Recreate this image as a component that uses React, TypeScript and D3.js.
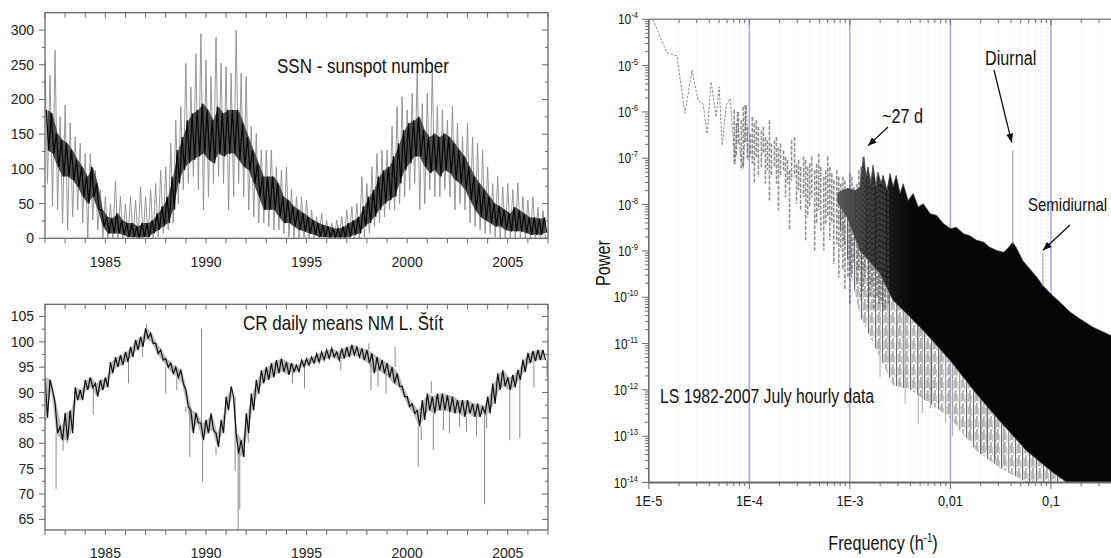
import * as d3 from 'd3';

const W = 1111;
const H = 558;
const FONT = '"Liberation Sans", Arial, Helvetica, sans-serif';

// ---- left panels: time axis ----
const years = d3.range(1982, 2008);
const yearLabels = [1985, 1990, 1995, 2000, 2005];
const ssnTicks = d3.range(0, 301, 25);
const ssnLabels = [0, 50, 100, 150, 200, 250, 300];
const crTicks = d3.range(65, 105.1, 2.5);
const crLabels = [65, 70, 75, 80, 85, 90, 95, 100, 105];

// quarterly samples, first one at 1982.00
const T0 = 1982;
const DT = 0.25;

// sunspot number: spike tops, dark core top / bottom, dips
const ssnHi = [258, 235, 271, 175, 192, 166, 146, 137, 122, 122, 98, 70, 60, 50, 82, 60, 50, 60, 55, 74, 60, 70, 79, 98, 103, 137, 170, 190, 252, 218, 266, 295, 257, 233, 290, 252, 247, 238, 300, 238, 233, 161, 151, 127, 127, 127, 103, 98, 103, 70, 60, 60, 55, 41, 31, 36, 26, 22, 26, 31, 41, 46, 50, 89, 79, 103, 122, 127, 127, 161, 190, 204, 185, 209, 242, 194, 209, 242, 190, 185, 170, 190, 166, 146, 166, 146, 137, 127, 103, 79, 89, 74, 79, 70, 80, 60, 55, 60, 45, 40];
const ssnCoreHi = [185, 180, 151, 142, 137, 127, 113, 103, 89, 103, 79, 41, 31, 29, 36, 26, 22, 22, 17, 22, 22, 26, 36, 46, 60, 89, 127, 146, 170, 180, 185, 194, 185, 170, 190, 180, 185, 185, 185, 166, 146, 127, 108, 89, 89, 89, 79, 60, 55, 46, 41, 36, 31, 26, 22, 19, 17, 14, 14, 17, 22, 26, 31, 46, 60, 70, 89, 98, 103, 118, 137, 156, 166, 170, 175, 156, 146, 151, 146, 151, 146, 137, 127, 118, 103, 89, 79, 70, 60, 50, 46, 41, 36, 45, 40, 35, 30, 30, 28, 30];
const ssnCoreLo = [127, 122, 103, 89, 89, 84, 74, 60, 50, 60, 41, 17, 7, 7, 7, 5, 2, 2, 1, 2, 2, 7, 12, 17, 22, 41, 79, 98, 108, 113, 118, 122, 113, 108, 122, 118, 122, 122, 113, 103, 98, 79, 60, 41, 41, 41, 31, 22, 22, 17, 12, 10, 7, 5, 2, 2, 1, 1, 1, 1, 2, 5, 7, 17, 22, 31, 41, 50, 55, 60, 79, 98, 108, 118, 118, 103, 94, 98, 89, 98, 94, 84, 79, 70, 55, 41, 31, 26, 22, 17, 17, 12, 10, 10, 10, 8, 5, 5, 5, 8];
const ssnLo = [79, 46, 41, 22, 12, 31, 41, 22, 0, 26, 12, 0, 0, 0, 0, 0, 0, 0, 0, 0, 0, 0, 2, 7, 12, 22, 50, 70, 79, 89, 70, 41, 60, 79, 89, 79, 41, 60, 79, 60, 41, 31, 22, 22, 17, 12, 12, 7, 2, 0, 0, 0, 0, 0, 0, 0, 0, 0, 0, 0, 0, 0, 0, 2, 7, 17, 22, 31, 41, 41, 50, 60, 70, 79, 41, 50, 70, 60, 60, 70, 60, 41, 50, 41, 22, 17, 12, 7, 7, 2, 0, 0, 0, 0, 0, 0, 0, 0, 0, 0];

// cosmic rays, Lomnicky Stit: band top / bottom per quarter
const crHi = [93, 92.5, 88, 83.3, 86, 86.5, 91, 90.5, 92.5, 93, 91.8, 92.5, 93, 96, 97, 97.4, 98, 99, 100.4, 101, 102.7, 101.7, 99.7, 98.4, 96.7, 95.8, 95, 94.4, 90.5, 86.5, 86, 84, 84.6, 85.9, 82, 84.6, 89.2, 91.2, 82, 80.6, 85.9, 89.8, 92.5, 94.4, 95, 95.8, 96.4, 96.7, 96, 95.8, 95.4, 96.4, 96.7, 97, 97.7, 98, 98.4, 98.7, 98, 98.7, 99, 99.4, 99, 98.7, 98.4, 97.7, 97, 96.4, 95.8, 95, 93.8, 91.2, 89.2, 87.8, 86.5, 88.5, 89.8, 89.2, 89.8, 89.8, 89.5, 89.2, 88.5, 88.5, 88.5, 87.8, 87.8, 87.2, 89.2, 91.8, 93.8, 94.4, 93, 93.5, 94.5, 96.5, 97.8, 98.2, 98.4, 98.4];
const crLo = [85, 90.5, 82, 80.6, 80.6, 82, 88.5, 88.5, 90.5, 91, 89.2, 90.5, 91, 93.8, 95, 95.4, 96, 97, 98.4, 99, 100.7, 99.7, 97.7, 96.4, 95, 93.8, 93, 91.8, 87.2, 82, 84, 80.6, 82, 82.6, 79.3, 82, 86.5, 89.2, 78, 77.3, 82, 86.5, 89.8, 91.8, 92.5, 93, 93.8, 94.1, 93.5, 94.1, 94.1, 95.1, 95.4, 95.8, 96, 96.4, 96.7, 97, 96.4, 96.7, 97, 97.4, 97, 96.4, 95.8, 93.8, 94.4, 93.8, 93, 91.8, 91.2, 89.2, 87.2, 85.9, 83.3, 84.6, 86.5, 85.9, 86.5, 86.5, 86.2, 85.9, 85.9, 85.2, 85.9, 85.2, 85.2, 85.9, 85.9, 87.8, 90.5, 91.2, 90.5, 91, 92.5, 94, 95.8, 96.2, 96.4, 96.4];
// single-day excursions [year, value]
const crSpikes: [number, number][] = [[1982.05, 84.5], [1982.55, 71], [1982.9, 78.5], [1983.1, 80], [1984.4, 85.6], [1986.15, 91.8], [1986.85, 97], [1987.05, 103.6], [1988.0, 89.8], [1988.55, 90.5], [1989.0, 86.2], [1989.2, 77.3], [1989.78, 102.6], [1989.83, 72.4], [1990.5, 77.7], [1991.45, 74.5], [1991.6, 62.9], [1991.68, 67], [1991.9, 78.7], [1992.1, 80], [1994.3, 91.8], [1994.9, 90.8], [1996.7, 94.4], [1998.1, 99.7], [1998.2, 90.5], [1998.55, 91.2], [1998.95, 89.8], [1999.4, 99], [2000.55, 75.4], [2000.7, 80.6], [2001.2, 92.2], [2001.3, 78.7], [2001.8, 82.6], [2002.1, 82], [2002.6, 83.3], [2002.95, 82.3], [2003.45, 81.3], [2003.85, 68], [2003.95, 83], [2005.1, 80.6], [2005.6, 81], [2006.3, 91], [2006.95, 93]];

// ---- right panel: Lomb-Scargle spectrum, all values log10 ----
const decades = d3.range(-5, 1);
const xTickLabels = ['1E-5', '1E-4', '1E-3', '0,01', '0,1', '1'];
const yExps = d3.range(-14, -3);
// sparse low-frequency part [log f, log P]
const lowF: [number, number][] = [[-4.96, -4.0], [-4.82, -4.72], [-4.72, -4.79], [-4.64, -6.03], [-4.57, -5.1], [-4.51, -5.75], [-4.46, -5.82], [-4.42, -6.47], [-4.38, -5.35], [-4.33, -6.11], [-4.3, -5.46], [-4.27, -6.72], [-4.23, -5.85], [-4.19, -5.71], [-4.14, -7.12], [-4.12, -6.0], [-4.09, -6.9], [-4.06, -7.22], [-4.03, -5.85], [-4.01, -7.04]];
// streaks [log f, top, bottom]
const streaks: [number, number, number][] = [[-4.15, -5.96, -7.12], [-4.13, -6.25, -6.97], [-4.11, -6.0, -6.68], [-4.08, -6.18, -7.26], [-4.06, -5.89, -7.19], [-4.04, -5.85, -6.68], [-4.02, -6.32, -7.04], [-3.99, -6.47, -6.97], [-3.97, -6.11, -7.12], [-3.95, -6.25, -7.55], [-3.93, -6.18, -6.97], [-3.91, -6.32, -7.4], [-3.88, -6.4, -7.19], [-3.86, -6.32, -6.9], [-3.84, -6.54, -7.55], [-3.82, -6.61, -7.26], [-3.8, -6.18, -7.91], [-3.78, -6.68, -7.4], [-3.75, -6.61, -7.19], [-3.73, -6.54, -7.55], [-3.71, -6.76, -8.13], [-3.69, -6.68, -7.4], [-3.66, -6.83, -7.26], [-3.64, -6.97, -7.84], [-3.62, -7.04, -7.55], [-3.6, -7.26, -8.56], [-3.58, -6.61, -7.48], [-3.55, -6.54, -7.4], [-3.53, -7.12, -7.98], [-3.51, -7.04, -7.69], [-3.49, -7.19, -8.13], [-3.46, -6.97, -7.84], [-3.44, -7.04, -8.77], [-3.42, -7.19, -8.27], [-3.4, -7.12, -8.05], [-3.38, -6.97, -7.84], [-3.35, -7.26, -8.99], [-3.33, -7.12, -8.41], [-3.31, -6.9, -8.13], [-3.29, -7.19, -8.56], [-3.26, -7.4, -8.99], [-3.24, -7.26, -8.41], [-3.22, -6.97, -8.27], [-3.2, -7.19, -8.77], [-3.18, -7.33, -8.41], [-3.16, -7.48, -9.28], [-3.13, -7.26, -8.85], [-3.11, -7.4, -9.57], [-3.09, -7.55, -8.99], [-3.07, -7.4, -9.42], [-3.05, -7.48, -9.86], [-3.02, -7.69, -9.57], [-3.0, -7.33, -10.14], [-2.98, -7.4, -9.57], [-2.96, -7.62, -9.28], [-2.93, -7.55, -9.71], [-2.91, -7.26, -9.42], [-2.89, -7.19, -10.07], [-2.87, -6.97, -9.86], [-2.85, -7.26, -9.57], [-2.82, -7.19, -10.29], [-2.8, -7.4, -10.0], [-2.78, -7.33, -9.78], [-2.76, -7.55, -10.29], [-2.73, -7.4, -10.0], [-2.71, -7.48, -10.14], [-2.69, -7.62, -10.14], [-2.67, -7.4, -10.29], [-2.65, -7.55, -10.29], [-2.62, -7.69, -10.14]];
// upper edge of the dense band
const envUpper: [number, number][] = [[-3.12, -7.75], [-3.02, -7.65], [-2.95, -7.7], [-2.9, -7.62], [-2.88, -7.19], [-2.86, -6.97], [-2.84, -7.4], [-2.82, -7.19], [-2.79, -7.55], [-2.77, -7.15], [-2.74, -7.62], [-2.72, -7.3], [-2.69, -7.55], [-2.67, -7.37], [-2.63, -7.69], [-2.6, -7.33], [-2.57, -7.62], [-2.54, -7.37], [-2.5, -7.76], [-2.47, -7.55], [-2.42, -7.91], [-2.37, -7.76], [-2.32, -8.05], [-2.27, -7.98], [-2.2, -8.2], [-2.14, -8.23], [-2.07, -8.41], [-2.0, -8.52], [-1.94, -8.49], [-1.87, -8.63], [-1.81, -8.67], [-1.74, -8.77], [-1.67, -8.81], [-1.61, -8.92], [-1.54, -8.99], [-1.47, -9.03], [-1.42, -8.92], [-1.38, -8.81], [-1.34, -8.95], [-1.28, -9.21], [-1.21, -9.39], [-1.14, -9.57], [-1.08, -9.75], [-1.0, -9.93], [-0.91, -10.11], [-0.81, -10.32], [-0.71, -10.47], [-0.58, -10.65], [-0.4, -10.83], [0, -11.6]];
// lower edge of the black core and of the grey fringe [log f, core, fringe]
const envLower: [number, number, number][] = [[-3.12, -7.95, -8.3], [-3.02, -8.3, -9.2], [-2.9, -8.99, -10.4], [-2.7, -9.49, -11.3], [-2.57, -10.07, -11.9], [-2.4, -10.43, -12.0], [-2.24, -10.79, -12.24], [-2.0, -11.37, -12.6], [-1.74, -12.09, -13.32], [-1.51, -12.67, -13.68], [-1.24, -13.32, -14], [-1.0, -13.75, -14], [-0.84, -14, -14], [0, -14, -14]];
// deep single lines [log f, from, to]
const deepSpikes: [number, number, number][] = [[-2.7, -9.5, -11.73], [-2.53, -10, -11.0], [-2.47, -10.2, -11.59], [-2.32, -10.6, -12.74], [-2.1, -11.1, -12.02], [-1.91, -11.6, -12.88], [-1.64, -12.3, -13.32], [-1.47, -12.7, -13.6], [-1.34, -13.0, -13.03], [-1.18, -13.4, -13.97], [-2.2, -11, -12.4], [-2.05, -11.3, -12.7], [-1.8, -12, -13.1], [-1.55, -12.6, -13.5], [-2.62, -9.9, -11.4], [-2.45, -10.3, -12.3], [-2.28, -10.7, -12.5], [-1.98, -11.4, -13.0], [-1.69, -12.2, -13.4], [-1.42, -12.8, -13.8]];
const tidePeaks = [
  { lf: -1.38, base: -8.85, top: -6.83 },
  { lf: -1.08, base: -9.75, top: -9.03 },
];

function NText({ x, y, size, anchor = 'start', rotate = 0, children, sx = 0.81 }: any) {
  return (
    <g transform={`translate(${x},${y}) rotate(${rotate}) scale(${sx},1)`}>
      <text textAnchor={anchor} fontSize={size} fontFamily={FONT} fill="#111">{children}</text>
    </g>
  );
}

export default function App() {
  const xY = d3.scaleLinear([1982, 2007], [45, 548]);
  const yS = d3.scaleLinear([0, 325], [238.3, 12.7]);
  const yC = d3.scaleLinear([62.9, 107.4], [530, 304.3]);
  const xF = d3.scaleLog([1e-5, 1], [648.8, 1151.5]);
  const yP = d3.scaleLog([1e-14, 1e-4], [482.5, 19.3]);
  const fx = (lf: number) => xF(10 ** lf);
  const py = (lp: number) => yP(10 ** lp);
  const tq = (i: number) => T0 + i * DT;

  const lineS = d3.line<[number, number]>().x(d => xY(d[0])).y(d => yS(d[1]));
  const lineC = d3.line<[number, number]>().x(d => xY(d[0])).y(d => yC(d[1]));
  const lineP = d3.line<[number, number]>().x(d => fx(d[0])).y(d => py(d[1]));

  // SSN: dark core band, grey spikes out to the extremes, black jitter inside the band
  const idx = d3.range(ssnHi.length);
  const ssnBand = d3.area<number>().x(i => xY(tq(i) + 0.125)).y0(i => yS(ssnCoreLo[i])).y1(i => yS(ssnCoreHi[i]))(idx);
  const ssnOuter = lineS(ssnHi.flatMap((h, i) => [[tq(i), h], [tq(i) + 0.125, ssnLo[i]]] as [number, number][]));
  const ssnCore = lineS(ssnCoreHi.flatMap((h, i) => [[tq(i) + 0.0625, h], [tq(i) + 0.1875, ssnCoreLo[i]]] as [number, number][]));

  const crBand = d3.area<number>().x(i => xY(tq(i) + 0.06)).y0(i => yC(crLo[i])).y1(i => yC(crHi[i]))(idx);
  const crPath = lineC(crHi.flatMap((h, i) => [[tq(i), h], [tq(i) + 0.125, crLo[i]]] as [number, number][]));

  const corePoly = lineP([...envUpper, ...envLower.map(d => [d[0], d[1]] as [number, number]).reverse()]) + 'Z';
  const fringe = d3.area<[number, number, number]>().x(d => fx(d[0])).y0(d => py(d[2])).y1(d => py(d[1]))(envLower);

  const minorF = decades.slice(0, -1).flatMap(d => d3.range(2, 10).map(m => d + Math.log10(m)));
  const minorP = yExps.slice(0, -1).flatMap(d => d3.range(2, 10).map(m => d + Math.log10(m)));

  const axisCol = '#6a6a6a';

  const leftPanel = (yScale: any, top: number, bottom: number, ticks: number[], labels: number[], labelY: number) => (
    <g fontFamily={FONT} fontSize={14} fill="#222">
      <rect x={45} y={top} width={503} height={bottom - top} fill="none" stroke={axisCol} strokeWidth={1.3} />
      {years.map(yr => (
        <g key={yr}>
          <line x1={xY(yr)} x2={xY(yr)} y1={bottom} y2={bottom + 5} stroke={axisCol} />
          <line x1={xY(yr)} x2={xY(yr)} y1={top} y2={top + 5} stroke={axisCol} />
        </g>
      ))}
      {ticks.map(v => {
        const major = labels.includes(v);
        return (
          <g key={v}>
            <line x1={45 - (major ? 6 : 3)} x2={45} y1={yScale(v)} y2={yScale(v)} stroke={axisCol} />
            <line x1={548 - (major ? 6 : 3)} x2={548} y1={yScale(v)} y2={yScale(v)} stroke={axisCol} />
          </g>
        );
      })}
      {labels.map(v => (
        <text key={v} x={34} y={yScale(v) + 5} textAnchor="end">{v}</text>
      ))}
      {yearLabels.map(yr => (
        <text key={yr} x={xY(yr)} y={labelY} textAnchor="middle">{yr}</text>
      ))}
    </g>
  );

  return (
    <svg width={W} height={H} style={{ position: 'absolute', left: 0, top: 0, background: '#fff' }}>
      <defs>
        <clipPath id="clipS"><rect x={45} y={12.7} width={503} height={225.6} /></clipPath>
        <clipPath id="clipC"><rect x={45} y={304.3} width={503} height={225.7} /></clipPath>
        <clipPath id="clipP"><rect x={648.8} y={19.3} width={503} height={463.2} /></clipPath>
        <marker id="arr" viewBox="0 0 10 8" refX={10} refY={4} markerWidth={9} markerHeight={7} markerUnits="userSpaceOnUse" orient="auto">
          <path d="M0,0 L10,4 L0,8 Z" fill="#111" />
        </marker>
        <pattern id="streak" width={7} height={13} patternUnits="userSpaceOnUse">
          <rect x={0} y={0} width={1.2} height={13} fill="#555" />
          <rect x={1.8} y={3} width={0.9} height={9} fill="#999" />
          <rect x={3.4} y={0} width={1.1} height={11} fill="#666" />
          <rect x={5.3} y={5} width={0.9} height={8} fill="#aaa" />
        </pattern>
        <linearGradient id="coreGrad" gradientUnits="userSpaceOnUse" x1={fx(-3.12)} x2={fx(-2.35)} y1={0} y2={0}>
          <stop offset="0" stopColor="#5a5a5a" />
          <stop offset="0.45" stopColor="#262626" />
          <stop offset="1" stopColor="#050505" />
        </linearGradient>
      </defs>

      {/* SSN panel */}
      <g clipPath="url(#clipS)">
        <path d={ssnOuter ?? ''} fill="none" stroke="#8c8c8c" strokeWidth={0.9} />
        <path d={ssnBand ?? ''} fill="#4a4a4a" />
        <path d={ssnCore ?? ''} fill="none" stroke="#050505" strokeWidth={1.2} />
      </g>
      {leftPanel(yS, 12.7, 238.3, ssnTicks, ssnLabels, 267)}
      <NText x={277} y={73} size={21}>SSN - sunspot number</NText>

      {/* CR panel */}
      <g clipPath="url(#clipC)">
        {crSpikes.map(([yr, v], k) => {
          const i = Math.min(99, Math.floor((yr - T0) / DT));
          const base = v > crHi[i] ? crHi[i] : crLo[i];
          return <line key={k} x1={xY(yr)} x2={xY(yr)} y1={yC(base)} y2={yC(v)} stroke="#8a8a8a" strokeWidth={1} />;
        })}
        <path d={crBand ?? ''} fill="#777" fillOpacity={0.5} />
        <path d={crPath ?? ''} fill="none" stroke="#111" strokeWidth={1.2} />
      </g>
      {leftPanel(yC, 304.3, 530, crTicks, crLabels, 557.5)}
      <NText x={243} y={330} size={21}>CR daily means NM L. Štít</NText>

      {/* Spectrum panel */}
      <g clipPath="url(#clipP)">
        {minorF.map((lf, k) => (
          <line key={k} x1={fx(lf)} x2={fx(lf)} y1={19.3} y2={482.5} stroke="#dde3dd" strokeDasharray="1 3" />
        ))}
        {decades.slice(1).map(d => (
          <line key={d} x1={fx(d)} x2={fx(d)} y1={19.3} y2={482.5} stroke="#a3a3ee" strokeWidth={1.5} />
        ))}
        <path d={lineP(lowF) ?? ''} fill="none" stroke="#8a8a8a" strokeWidth={1} strokeDasharray="2.5 1.5" />
        <path d={fringe ?? ''} fill="url(#streak)" fillOpacity={0.85} />
        {deepSpikes.map(([lf, a, b], k) => (
          <line key={k} x1={fx(lf)} x2={fx(lf)} y1={py(a)} y2={py(b)} stroke="#aaa" strokeWidth={1} />
        ))}
        <path d={corePoly} fill="url(#coreGrad)" stroke="#444" strokeWidth={0.8} />
        {streaks.map(([lf, a, b], k) => (
          <line key={k} x1={fx(lf)} x2={fx(lf)} y1={py(a)} y2={py(b)} stroke="#555" strokeOpacity={0.65} strokeWidth={1.6} strokeDasharray="4 1.5" />
        ))}
        {tidePeaks.map((p, k) => (
          <line key={k} x1={fx(p.lf)} x2={fx(p.lf)} y1={py(p.base)} y2={py(p.top)} stroke="#999" strokeWidth={1} />
        ))}
      </g>

      {/* spectrum axes */}
      <g stroke={axisCol}>
        <line x1={648.8} x2={1151.5} y1={19.3} y2={19.3} stroke="#8c8c8c" strokeWidth={1.5} />
        <line x1={648.8} x2={1151.5} y1={482.5} y2={482.5} strokeWidth={2} />
        <line x1={648.8} x2={648.8} y1={19.3} y2={482.5} strokeWidth={1.6} />
        {decades.map(d => (
          <g key={d}>
            <line x1={fx(d)} x2={fx(d)} y1={482.5} y2={489} />
            <line x1={fx(d)} x2={fx(d)} y1={19.3} y2={25} />
          </g>
        ))}
        {minorF.map((lf, k) => (
          <g key={k}>
            <line x1={fx(lf)} x2={fx(lf)} y1={482.5} y2={486} />
            <line x1={fx(lf)} x2={fx(lf)} y1={19.3} y2={23} />
          </g>
        ))}
        {yExps.map(e => <line key={e} x1={642} x2={648.8} y1={py(e)} y2={py(e)} />)}
        {minorP.map((lp, k) => <line key={k} x1={645} x2={648.8} y1={py(lp)} y2={py(lp)} />)}
      </g>
      {yExps.map(e => (
        <NText key={e} x={638} y={py(e) + 5} size={14} anchor="end" sx={0.85}>
          10<tspan dy={-6} fontSize={9}>{e}</tspan>
        </NText>
      ))}
      {decades.map((d, k) => (
        <NText key={d} x={fx(d)} y={506} size={15} anchor="middle" sx={0.85}>{xTickLabels[k]}</NText>
      ))}
      <NText x={610} y={263} size={20} anchor="middle" rotate={-90}>Power</NText>
      <NText x={883} y={550} size={20} anchor="middle">
        Frequency (h<tspan dy={-8} fontSize={12}>-1</tspan><tspan dy={8}>)</tspan>
      </NText>
      <NText x={660} y={403} size={19.5}>LS 1982-2007 July hourly data</NText>

      {/* annotations */}
      <NText x={882} y={123} size={20}>~27 d</NText>
      <line x1={888} y1={127} x2={fx(-2.86) + 4} y2={py(-6.97) - 11} stroke="#111" strokeWidth={1.3} markerEnd="url(#arr)" />
      <NText x={985} y={65} size={20}>Diurnal</NText>
      <line x1={994} y1={70} x2={fx(tidePeaks[0].lf) - 1} y2={py(tidePeaks[0].top) - 8} stroke="#111" strokeWidth={1.3} markerEnd="url(#arr)" />
      <NText x={1028} y={211} size={19} sx={0.79}>Semidiurnal</NText>
      <line x1={1070} y1={225} x2={fx(tidePeaks[1].lf)} y2={py(tidePeaks[1].top) - 2} stroke="#111" strokeWidth={1.3} markerEnd="url(#arr)" />
    </svg>
  );
}
